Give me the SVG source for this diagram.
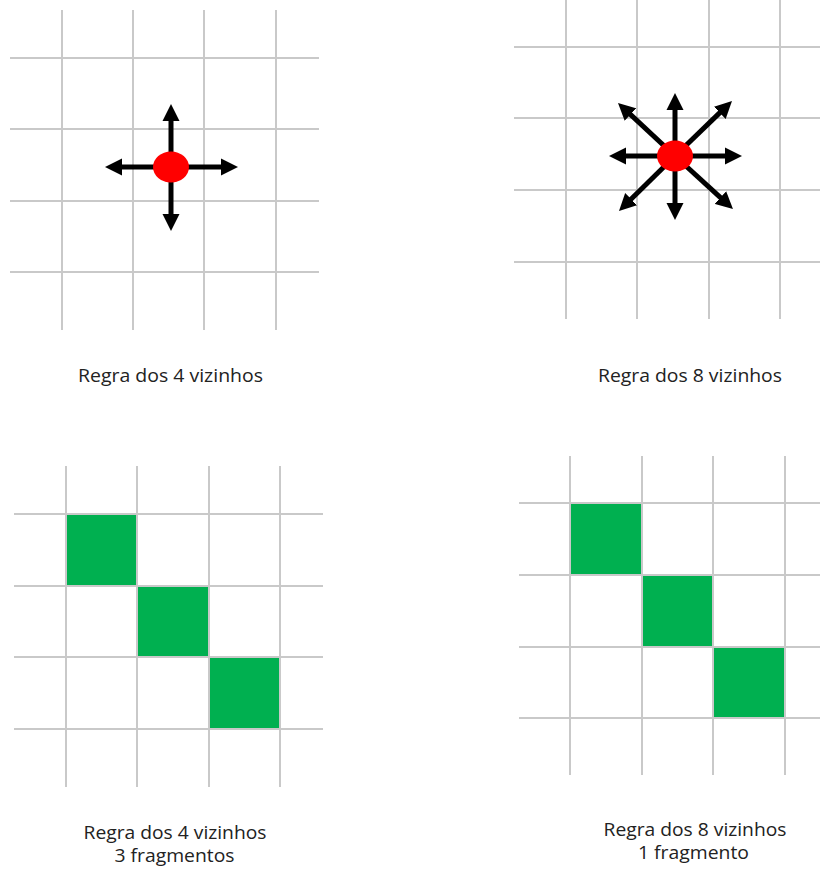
<svg xmlns="http://www.w3.org/2000/svg" width="820" height="873" viewBox="0 0 820 873">
<style>
.grid line{stroke:#c9c9c9;stroke-width:2}
.arrow{stroke:#000;stroke-width:5;marker-end:url(#head)}
.dot{fill:#ff0000}
.cell{fill:#00b050}
.lbl{font-family:"Open Sans","Liberation Sans",sans-serif;font-size:18px;fill:#222;text-anchor:middle}
</style>
<defs>
<marker id="head" markerUnits="userSpaceOnUse" markerWidth="18" markerHeight="18" viewBox="0 0 18 18" refX="2" refY="9" orient="auto">
<path d="M0,0.5 L17,9 L0,17.5 z" fill="#000"/>
</marker>
</defs>
<rect width="820" height="873" fill="#fff"/>

<g id="panel-4-neighbours">
<g class="grid">
<line x1="62" y1="10" x2="62" y2="330"/>
<line x1="133" y1="10" x2="133" y2="330"/>
<line x1="204" y1="10" x2="204" y2="330"/>
<line x1="276" y1="10" x2="276" y2="330"/>
<line x1="10" y1="58" x2="319" y2="58"/>
<line x1="10" y1="129" x2="319" y2="129"/>
<line x1="10" y1="201" x2="319" y2="201"/>
<line x1="10" y1="272" x2="319" y2="272"/>
</g>
</g>

<g id="panel-8-neighbours">
<g class="grid">
<line x1="566" y1="0" x2="566" y2="319"/>
<line x1="637" y1="0" x2="637" y2="319"/>
<line x1="709" y1="0" x2="709" y2="319"/>
<line x1="780" y1="0" x2="780" y2="319"/>
<line x1="514" y1="47" x2="820" y2="47"/>
<line x1="514" y1="118" x2="820" y2="118"/>
<line x1="514" y1="190" x2="820" y2="190"/>
<line x1="514" y1="262" x2="820" y2="262"/>
</g>
</g>

<g id="connectors">
<line class="arrow" x1="171" y1="167" x2="171" y2="119"/>
<line class="arrow" x1="171" y1="167" x2="171" y2="216"/>
<line class="arrow" x1="171" y1="167" x2="120" y2="167"/>
<line class="arrow" x1="171" y1="167" x2="223" y2="167"/>

<line class="arrow" x1="675" y1="156" x2="675" y2="108"/>
<line class="arrow" x1="675" y1="156" x2="675" y2="205"/>
<line class="arrow" x1="675" y1="156" x2="624" y2="156"/>
<line class="arrow" x1="675" y1="156" x2="727" y2="156"/>
<line class="arrow" x1="675" y1="156" x2="629" y2="113.2"/>
<line class="arrow" x1="675" y1="156" x2="721.2" y2="111.4"/>
<line class="arrow" x1="675" y1="156" x2="629.7" y2="200.5"/>
<line class="arrow" x1="675" y1="156" x2="721.9" y2="198.9"/>
</g>

<g id="pixel-4">
<ellipse class="dot" cx="171" cy="167" rx="18" ry="15.5"/>
</g>
<g id="pixel-8">
<ellipse class="dot" cx="675" cy="156" rx="18" ry="15.5"/>
</g>

<g id="panel-fragments-4">
<rect class="cell" x="65.5" y="514" width="72" height="72"/>
<rect class="cell" x="137.5" y="586" width="71" height="71"/>
<rect class="cell" x="208.5" y="657" width="72" height="72"/>
<g class="grid">
<line x1="66" y1="466" x2="66" y2="787"/>
<line x1="137" y1="466" x2="137" y2="787"/>
<line x1="209" y1="466" x2="209" y2="787"/>
<line x1="280" y1="466" x2="280" y2="787"/>
<line x1="14" y1="514" x2="323" y2="514"/>
<line x1="14" y1="586" x2="323" y2="586"/>
<line x1="14" y1="657" x2="323" y2="657"/>
<line x1="14" y1="729" x2="323" y2="729"/>
</g>
</g>

<g id="panel-fragments-8">
<rect class="cell" x="570" y="503.5" width="72" height="71.5"/>
<rect class="cell" x="642" y="575" width="71.5" height="71.5"/>
<rect class="cell" x="713.5" y="646.5" width="71.5" height="71.5"/>
<g class="grid">
<line x1="570" y1="456" x2="570" y2="775"/>
<line x1="642" y1="456" x2="642" y2="775"/>
<line x1="713" y1="456" x2="713" y2="775"/>
<line x1="785" y1="456" x2="785" y2="775"/>
<line x1="519" y1="503" x2="820" y2="503"/>
<line x1="519" y1="575" x2="820" y2="575"/>
<line x1="519" y1="647" x2="820" y2="647"/>
<line x1="519" y1="718" x2="820" y2="718"/>
</g>
</g>

<g id="labels">
<text class="lbl" x="170.5" y="382" textLength="185" lengthAdjust="spacingAndGlyphs">Regra dos 4 vizinhos</text>
<text class="lbl" x="690" y="382" textLength="184" lengthAdjust="spacingAndGlyphs">Regra dos 8 vizinhos</text>
<text class="lbl" x="175" y="839" textLength="183" lengthAdjust="spacingAndGlyphs">Regra dos 4 vizinhos</text>
<text class="lbl" x="174.5" y="862" textLength="120" lengthAdjust="spacingAndGlyphs">3 fragmentos</text>
<text class="lbl" x="695" y="836" textLength="183" lengthAdjust="spacingAndGlyphs">Regra dos 8 vizinhos</text>
<text class="lbl" x="693.5" y="859" textLength="111" lengthAdjust="spacingAndGlyphs">1 fragmento</text>
</g>
</svg>
